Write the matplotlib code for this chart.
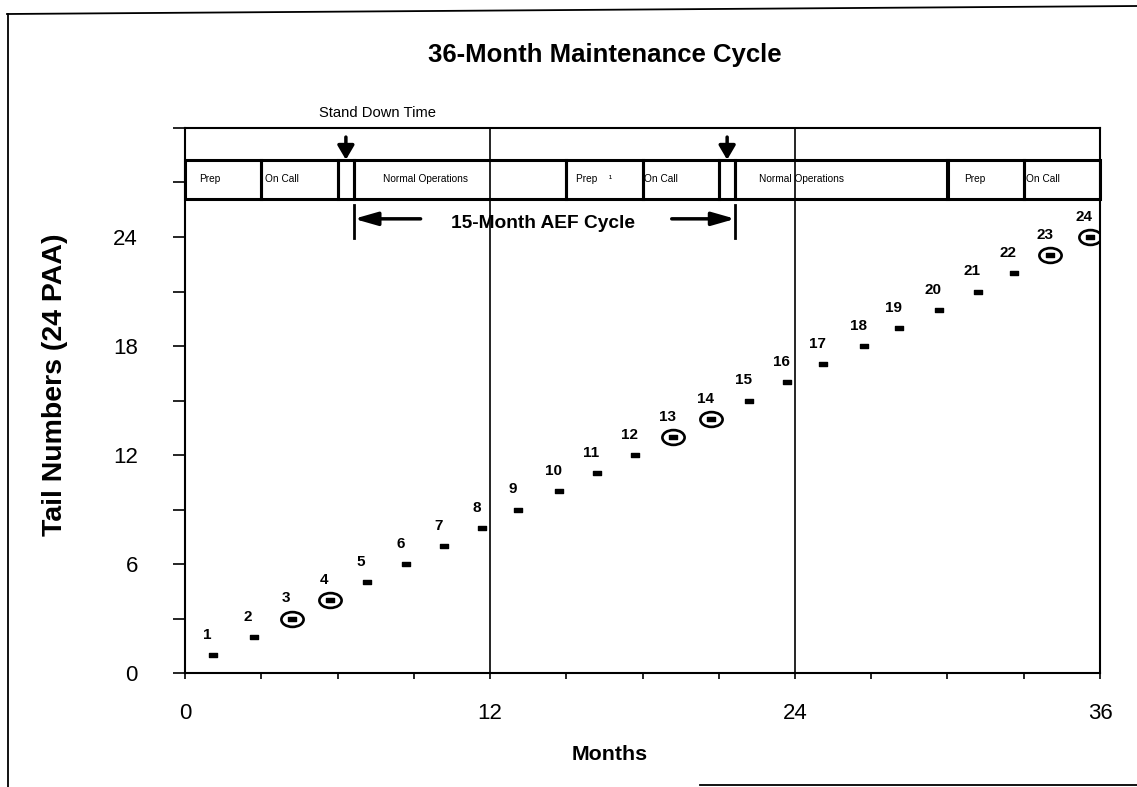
import matplotlib
matplotlib.use('Agg')
import matplotlib.pyplot as plt
from matplotlib import font_manager
from matplotlib.path import Path
from matplotlib.transforms import Affine2D
from matplotlib.lines import Line2D
from matplotlib.patches import Rectangle
import numpy as np

# ---- values
tail_num = list(range(1, 25))
tail_month = [1.1, 2.7, 4.2, 5.7, 7.15, 8.7, 10.2, 11.7, 13.1, 14.7, 16.2, 17.7,
              19.2, 20.7, 22.2, 23.7, 25.1, 26.7, 28.1, 29.65, 31.2, 32.6, 34.05, 35.6]
circled = [3, 4, 13, 14, 23, 24]

phase_names = ['Prep', 'On Call', '', 'Normal Operations', 'Prep    \u00b9', 'On Call', '',
               'Normal Operations', 'Prep', 'On Call']
phase_start = [0, 3, 6, 6.65, 15, 18, 21, 21.65, 30, 33]
phase_end = [3, 6, 6.65, 15, 18, 21, 21.65, 30, 33, 36]

stand_down = [6.33, 21.33]        # arrows marking stand down time
aef_cycle = [6.65, 21.65]         # 15-month AEF cycle limits

xticks = np.arange(0, 37, 3)
xticklabels = ['0', '', '', '', '12', '', '', '', '24', '', '', '', '36']
yticks = np.arange(0, 31, 3)
yticklabels = ['0', '', '6', '', '12', '', '18', '', '24', '', '']

# ---- fonts: narrow face if we have it
names = {f.name for f in font_manager.fontManager.ttflist}
narrow = 'Liberation Sans Narrow' in names
nf = 'Liberation Sans Narrow' if narrow else 'Liberation Sans'
k = 1/0.82 if narrow else 1.0
def fs(s):
    return s*k

W, H = 1137, 787
fig = plt.figure(figsize=(W/100, H/100), dpi=100)
ax = fig.add_axes([185/W, 1-673/H, (1100-185)/W, (673-128)/H])
ax.set_xlim(0, 36)
ax.set_ylim(0, 30)

for sp in ax.spines.values():
    sp.set_linewidth(1.5)

ax.set_xticks(xticks)
ax.set_xticklabels(xticklabels, family='Liberation Sans', fontsize=16)
ax.set_yticks(yticks)
ax.set_yticklabels(yticklabels, family='Liberation Sans', fontsize=16)
ax.tick_params(axis='x', direction='out', length=4.5, width=1.2, pad=17)
ax.tick_params(axis='y', direction='out', length=9, width=1.2, pad=25)

# month grid at 12 and 24
for m in [12, 24]:
    ax.axvline(m, color='k', lw=1.2)

# ---- phase band
band_lo, band_hi = 26.1, 28.25
pads = [0.55, 0.15, 0, 1.15, 0.4, 0.05, 0, 0.95, 0.67, 0.08]
for s, e, nm, p in zip(phase_start, phase_end, phase_names, pads):
    ax.add_patch(Rectangle((s, band_lo), e-s, band_hi-band_lo, fill=False,
                           lw=2.2, ec='k', clip_on=False))
    if nm:
        ax.text(s+p, (band_lo+band_hi)/2, nm, ha='left', va='center',
                family=nf, fontsize=fs(7.3))

for x in stand_down:
    ax.annotate('', xy=(x, band_hi), xytext=(x, 29.5),
                arrowprops=dict(arrowstyle='-|>,head_width=0.5,head_length=0.85',
                                lw=2.5, color='k', shrinkA=0, shrinkB=0))
ax.text(7.57, 30.83, 'Stand Down Time', ha='center', va='center',
        family=nf, fontsize=fs(10.6), clip_on=False)

# 15-month AEF cycle marker
for x in aef_cycle:
    ax.plot([x, x], [23.95, 25.75], color='k', lw=2)
ax.annotate('', xy=(aef_cycle[0], 25.0), xytext=(9.27, 25.0),
            arrowprops=dict(arrowstyle='-|>,head_width=0.4,head_length=1.4',
                            lw=2.5, color='k', shrinkA=0, shrinkB=0))
ax.annotate('', xy=(aef_cycle[1], 25.0), xytext=(19.15, 25.0),
            arrowprops=dict(arrowstyle='-|>,head_width=0.4,head_length=1.4',
                            lw=2.5, color='k', shrinkA=0, shrinkB=0))
ax.text(14.1, 24.75, '15-Month AEF Cycle', ha='center', va='center',
        family=nf, fontsize=fs(13.8), weight='bold')

# ---- tail numbers
rect = Path([(-0.9, -0.5), (0.9, -0.5), (0.9, 0.5), (-0.9, 0.5), (-0.9, -0.5)],
            [1, 2, 2, 2, 79])
ax.plot(tail_month, tail_num, ls='none', marker=rect, ms=5.5, color='k')

ell = Affine2D().scale(1.5, 1).transform_path(Path.unit_circle())
cx = [tail_month[n-1] for n in circled]
cy = [tail_num[n-1] for n in circled]
ax.plot(cx, cy, ls='none', marker=ell, ms=16, mfc='none', mec='k', mew=1.9)

for x, n in zip(tail_month, tail_num):
    ax.annotate(str(n), (x, n), xytext=(-4, 14.5), textcoords='offset points',
                ha='center', va='center', family=nf, fontsize=fs(11), weight='bold')

# ---- labels
fig.text(605/W, 1-55/H, '36-Month Maintenance Cycle', ha='center', va='center',
         family=nf, fontsize=fs(18.5), weight='bold')
fig.text(55/W, 1-385/H, 'Tail Numbers (24 PAA)', rotation=90, ha='center', va='center',
         family='Liberation Sans', fontsize=20.5, weight='bold')
fig.text(610/W, 1-755/H, 'Months', ha='center', va='center',
         family=nf, fontsize=fs(15.4), weight='bold')

# ---- page frame (scan)
fig.add_artist(Line2D([7/W, 1], [1-14/H, 1-6/H], color='k', lw=1.3))
fig.add_artist(Line2D([8/W, 8/W], [1-14/H, 0], color='k', lw=1.3))
fig.add_artist(Line2D([700/W, 1], [1-785/H, 1-785/H], color='k', lw=1.3))

fig.savefig('out.png', dpi=100)
